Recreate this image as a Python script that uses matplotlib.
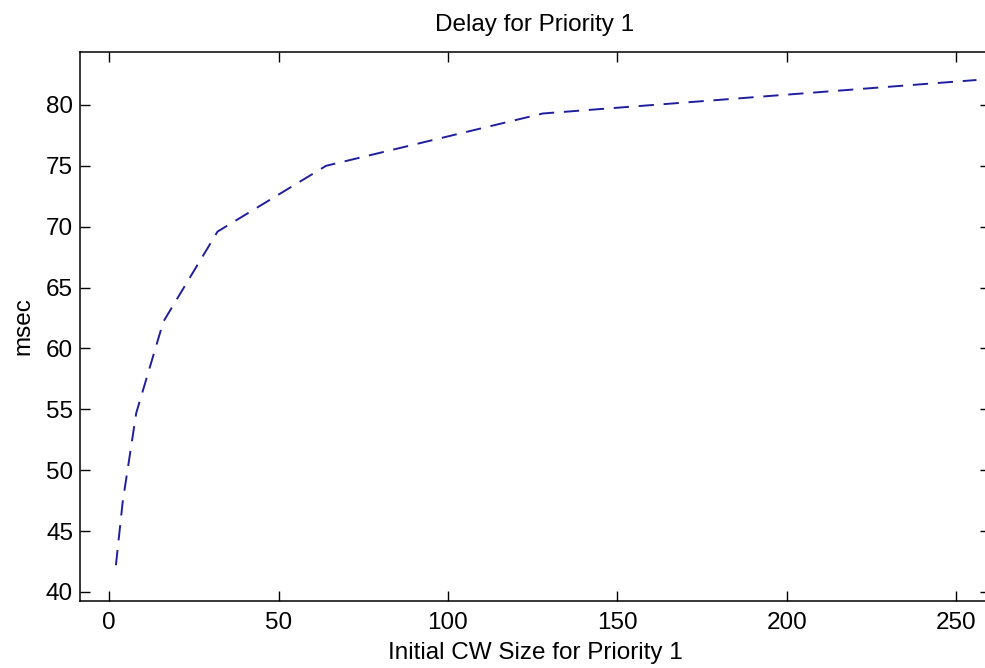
import matplotlib
matplotlib.use("Agg")
import matplotlib.pyplot as plt

# CW sizes (powers of two) and delays
cw_size = [2, 4, 8, 16, 32, 64, 128, 256]
delay_ms = [42.2, 47.4, 54.7, 62.2, 69.6, 75.0, 79.3, 82.05]

xticks = [0, 50, 100, 150, 200, 250]
yticks = [40, 45, 50, 55, 60, 65, 70, 75, 80]

plt.rcParams['font.family'] = ['Liberation Sans', 'DejaVu Sans']
plt.rcParams['font.size'] = 17.5
plt.rcParams['lines.scale_dashes'] = False

fig = plt.figure(figsize=(9.85, 6.68), dpi=100)
ax = fig.add_axes([80/985, 67/668, 910/985, 549/668])

ax.plot(cw_size, delay_ms, color=(0.12, 0.12, 0.62), linewidth=1.4,
        dashes=[11.0, 7.0])

ax.set_xlim(-8.6, 260)
ax.set_ylim(39.26, 84.35)
ax.set_xticks(xticks)
ax.set_yticks(yticks)

ax.tick_params(direction='in', length=7.2, width=1.0, top=True, right=True,
               color='black', labelcolor='black')
ax.tick_params(axis='x', pad=8)
ax.tick_params(axis='y', pad=5)
for s in ax.spines.values():
    s.set_linewidth(1.1)

ax.set_title("Delay for Priority 1", fontsize=17.5, pad=15)
ax.set_xlabel("Initial CW Size for Priority 1", labelpad=6)
ax.set_ylabel("msec", labelpad=8)

fig.savefig("out.png", dpi=100)
